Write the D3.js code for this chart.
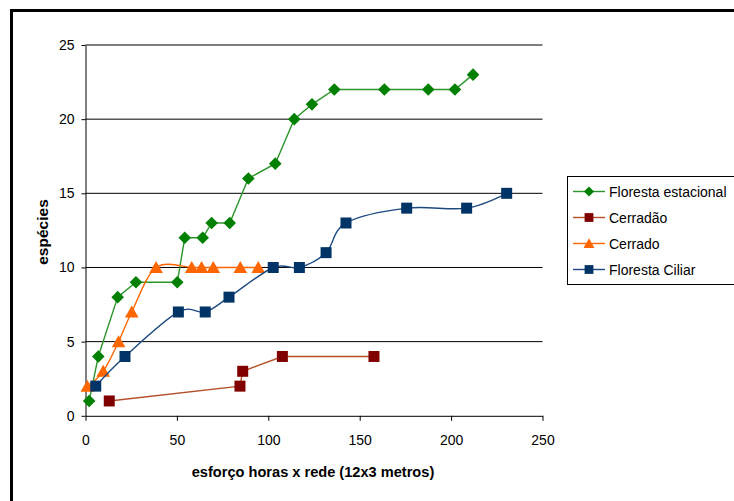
<!DOCTYPE html>
<html><head><meta charset="utf-8">
<script src="https://cdn.jsdelivr.net/npm/d3@7"></script>
<style>
body{margin:0;background:#fff}
svg{display:block;font-family:"Liberation Sans",Arial,sans-serif}
</style>
</head><body>
<svg id="chart" width="734" height="501"></svg>
<script>
// Species accumulation by sampling effort (net-hours), one series per habitat
const seriesNames = ["Floresta estacional", "Cerradão", "Cerrado", "Floresta Ciliar"];
const estacionalX = [2, 7, 17.6, 27.6, 50.2, 54.3, 64.1, 69, 78.9, 89.1, 103.8, 114.2, 123.9, 136.1, 163.5, 187.5, 202.1, 212];
const estacionalY = [1, 4, 8, 9, 9, 12, 12, 13, 13, 16, 17, 20, 21, 22, 22, 22, 22, 23];
const cerradaoX = [13, 84.5, 86, 107.7, 157.8];
const cerradaoY = [1, 2, 3, 4, 4];
const cerradoX = [1, 9.7, 18.1, 25.3, 38.6, 58.1, 63.5, 69.9, 84.7, 94.5];
const cerradoY = [2, 3, 5, 7, 10, 10, 10, 10, 10, 10];
const ciliarX = [5.6, 21.6, 50.8, 65.5, 78.5, 102.7, 117, 131.6, 142.5, 175.7, 208.5, 230.4];
const ciliarY = [2, 4, 7, 7, 8, 10, 10, 11, 13, 14, 14, 15];
const xTicks = [0, 50, 100, 150, 200, 250];
const yTicks = [0, 5, 10, 15, 20, 25];
const xTitle = "esforço horas x rede (12x3 metros)";
const yTitle = "espécies";

const svg = d3.select("#chart");

// outer chart frame (right and bottom edges fall outside the view)
svg.append("rect")
  .attr("x", 11.5).attr("y", 10.5).attr("width", 760).attr("height", 520)
  .attr("fill", "none").attr("stroke", "#000").attr("stroke-width", 3);

const x = d3.scaleLinear().domain([0, 250]).range([85.5, 542.5]);
const y = d3.scaleLinear().domain([0, 25]).range([415.8, 45]);

// horizontal gridlines
svg.append("g").selectAll("line")
  .data(yTicks.filter(v => v > 0))
  .join("line")
  .attr("x1", x(0)).attr("x2", x(250))
  .attr("y1", d => y(d)).attr("y2", d => y(d))
  .attr("stroke", "#000").attr("stroke-width", 1);

// axes
const gx = svg.append("g")
  .attr("transform", `translate(0,${y(0)})`)
  .call(d3.axisBottom(x).tickValues(xTicks).tickSize(5).tickPadding(14).tickSizeOuter(0));
const gy = svg.append("g")
  .attr("transform", `translate(${x(0)},0)`)
  .call(d3.axisLeft(y).tickValues(yTicks).tickSize(4).tickPadding(7).tickSizeOuter(0));
[gx, gy].forEach(g => {
  g.select(".domain").attr("stroke", "#000");
  g.selectAll(".tick line").attr("stroke", "#000");
  g.selectAll(".tick text").attr("font-size", 14).attr("fill", "#000")
    .attr("font-family", "'Liberation Sans', Arial, sans-serif");
});

// axis titles
svg.append("text")
  .attr("x", 313).attr("y", 476.5)
  .attr("text-anchor", "middle").attr("font-size", 14.6).attr("font-weight", "bold")
  .text(xTitle);
svg.append("text")
  .attr("transform", "translate(48,232) rotate(-90)")
  .attr("text-anchor", "middle").attr("font-size", 15.5).attr("font-weight", "bold")
  .text(yTitle);

// marker shapes
const shapes = {
  diamond: r => `M0,${-r}L${r},0L0,${r}L${-r},0Z`,
  square: r => `M${-r},${-r}H${r}V${r}H${-r}Z`,
  triangle: r => `M0,${-r}L${r * 1.05},${r * 0.85}L${-r * 1.05},${r * 0.85}Z`
};

const series = [
  {name: seriesNames[0], xs: estacionalX, ys: estacionalY, line: "#2b952b", fill: "#008000", shape: "diamond", r: 6.3, curve: d3.curveLinear},
  {name: seriesNames[1], xs: cerradaoX, ys: cerradaoY, line: "#b5502a", fill: "#800000", shape: "square", r: 5.5, curve: d3.curveLinear},
  {name: seriesNames[2], xs: cerradoX, ys: cerradoY, line: "#ff6600", fill: "#ff6600", shape: "triangle", r: 6.5, curve: d3.curveCatmullRom.alpha(0)},
  {name: seriesNames[3], xs: ciliarX, ys: ciliarY, line: "#1d4a80", fill: "#003366", shape: "square", r: 5.5, curve: d3.curveCatmullRom.alpha(0)}
];

series.forEach(s => {
  const pts = s.xs.map((v, i) => [v, s.ys[i]]);
  const g = svg.append("g");
  g.append("path")
    .attr("d", d3.line().x(d => x(d[0])).y(d => y(d[1])).curve(s.curve)(pts))
    .attr("fill", "none").attr("stroke", s.line).attr("stroke-width", 1.4);
  g.selectAll("path.m").data(pts).join("path").attr("class", "m")
    .attr("transform", d => `translate(${x(d[0])},${y(d[1])})`)
    .attr("d", shapes[s.shape](s.r))
    .attr("fill", s.fill);
});

// legend
const lg = svg.append("g");
lg.append("rect")
  .attr("x", 567.5).attr("y", 176.5).attr("width", 200).attr("height", 108)
  .attr("fill", "#fff").attr("stroke", "#000").attr("stroke-width", 1);
series.forEach((s, i) => {
  const cy = 191.5 + i * 26;
  lg.append("line").attr("x1", 573).attr("x2", 605).attr("y1", cy).attr("y2", cy)
    .attr("stroke", s.line).attr("stroke-width", 1.4);
  lg.append("path").attr("transform", `translate(589,${cy})`)
    .attr("d", shapes[s.shape](s.r * 0.8)).attr("fill", s.fill);
  lg.append("text").attr("x", 609).attr("y", cy + 5)
    .attr("font-size", 14).attr("fill", "#000").text(s.name);
});
</script>
</body></html>
